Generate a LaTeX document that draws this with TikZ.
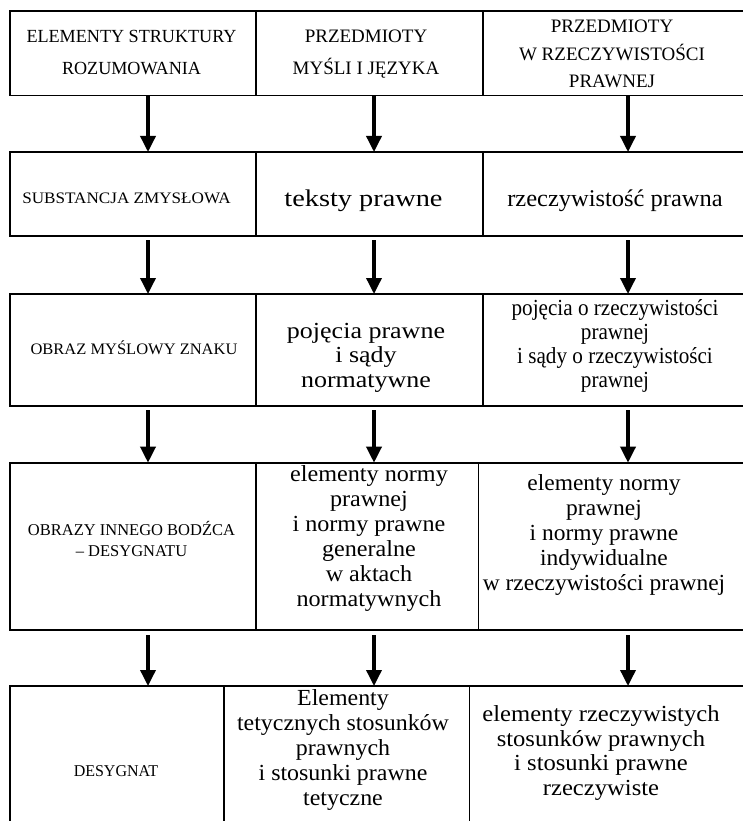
\documentclass[tikz,border=0pt]{standalone}
\usepackage{fontspec}
\setmainfont{Liberation Serif}
\usepackage{graphicx}
\usetikzlibrary{arrows.meta,fit}

% multi-line centred cell text: horizontal stretch, size, line pitch, lines
\newcommand{\celltext}[4]{\scalebox{#1}[1]{\fontsize{#2}{#3}\selectfont\begin{tabular}[t]{@{}c@{}}#4\end{tabular}}}

\tikzset{
  cell/.style={draw, line width=1.8pt, inner sep=0pt, outer sep=0pt},
  arr/.style={line width=3.5pt, -{Triangle[width=15pt,length=16pt]}},
  txt/.style={anchor=base, inner sep=0pt, outer sep=0pt},
}

\begin{document}
\begin{tikzpicture}[x=1pt, y=-1pt]
\useasboundingbox (0,0) rectangle (743,821);
\clip (0,0) rectangle (743,821);

% arrow columns
\coordinate (ca) at (148,0);
\coordinate (cb) at (374,0);
\coordinate (cc) at (628,0);

% row 1
\node[cell, fit={(10,11) (256,95.5)}] (r1a) {};
\node[cell, fit={(256,11) (483,95.5)}] (r1b) {};
\node[cell, fit={(483,11) (750,95.5)}] (r1c) {};
% row 2
\node[cell, fit={(10,152) (256,236)}] (r2a) {};
\node[cell, fit={(256,152) (483,236)}] (r2b) {};
\node[cell, fit={(483,152) (750,236)}] (r2c) {};
% row 3
\node[cell, fit={(10,294) (256,406)}] (r3a) {};
\node[cell, fit={(256,294) (483,406)}] (r3b) {};
\node[cell, fit={(483,294) (750,406)}] (r3c) {};
% row 4
\node[cell, fit={(10,462.7) (256,630)}] (r4a) {};
\node[cell, fit={(256,462.7) (478.5,630)}] (r4b) {};
\node[cell, fit={(478.5,462.7) (750,630)}] (r4c) {};
% row 5
\node[cell, fit={(10,686) (224,830)}] (r5a) {};
\node[cell, fit={(224,686) (469.5,830)}] (r5b) {};
\node[cell, fit={(469.5,686) (750,830)}] (r5c) {};

% texts
\node[txt] (t1a) at (131.5,43) {\celltext{0.98}{18.5}{32}{ELEMENTY STRUKTURY\\ROZUMOWANIA}};
\node[txt] (t1b) at (366,43) {\celltext{1}{19}{32}{PRZEDMIOTY\\MYŚLI I JĘZYKA}};
\node[txt] (t1c) at (612,33) {\celltext{1}{19}{27.5}{PRZEDMIOTY\\W RZECZYWISTOŚCI\\PRAWNEJ}};

\node[txt] (t2a) at (126.5,203) {\celltext{1.07}{16}{20}{SUBSTANCJA ZMYSŁOWA}};
\node[txt] (t2b) at (363.5,206.7) {\celltext{1.18}{24}{25}{teksty prawne}};
\node[txt] (t2c) at (615,206.7) {\celltext{1.02}{24}{25}{rzeczywistość prawna}};

\node[txt] (t3a) at (134,354) {\celltext{1.03}{16}{20}{OBRAZ MYŚLOWY ZNAKU}};
\node[txt] (t3b) at (366,338) {\celltext{1.13}{23}{24.5}{pojęcia prawne\\i sądy\\normatywne}};
\node[txt] (t3c) at (615,315) {\celltext{0.92}{23}{24}{pojęcia o rzeczywistości\\prawnej\\i sądy o rzeczywistości\\prawnej}};

\node[txt] (t4a) at (131.5,535) {\celltext{1}{16.5}{21.7}{OBRAZY INNEGO BODŹCA\\– DESYGNATU}};
\node[txt] (t4b) at (369,481.7) {\celltext{1.05}{23}{25}{elementy normy\\prawnej\\i normy prawne\\generalne\\w aktach\\normatywnych}};
\node[txt] (t4c) at (604,490) {\celltext{1.02}{23}{25}{elementy normy\\prawnej\\i normy prawne\\indywidualne\\w rzeczywistości prawnej}};

\node[txt] (t5a) at (116,776.7) {\celltext{0.97}{16.5}{20}{DESYGNAT}};
\node[txt] (t5b) at (343,705) {\celltext{1.04}{23}{25}{Elementy\\tetycznych stosunków\\prawnych\\i stosunki prawne\\tetyczne}};
\node[txt] (t5c) at (601,721.7) {\celltext{1.07}{23}{24.5}{elementy rzeczywistych\\stosunków prawnych\\i stosunki prawne\\rzeczywiste}};

% arrows between rows
\foreach \c in {ca,cb,cc} {
  \draw[arr] (r1a.south -| \c) -- (r2a.north -| \c);
  \draw[arr, shorten <=4pt] (r2a.south -| \c) -- (r3a.north -| \c);
  \draw[arr, shorten <=4pt] (r3a.south -| \c) -- (r4a.north -| \c);
  \draw[arr, shorten <=5pt] (r4a.south -| \c) -- (r5a.north -| \c);
}
\end{tikzpicture}
\end{document}
